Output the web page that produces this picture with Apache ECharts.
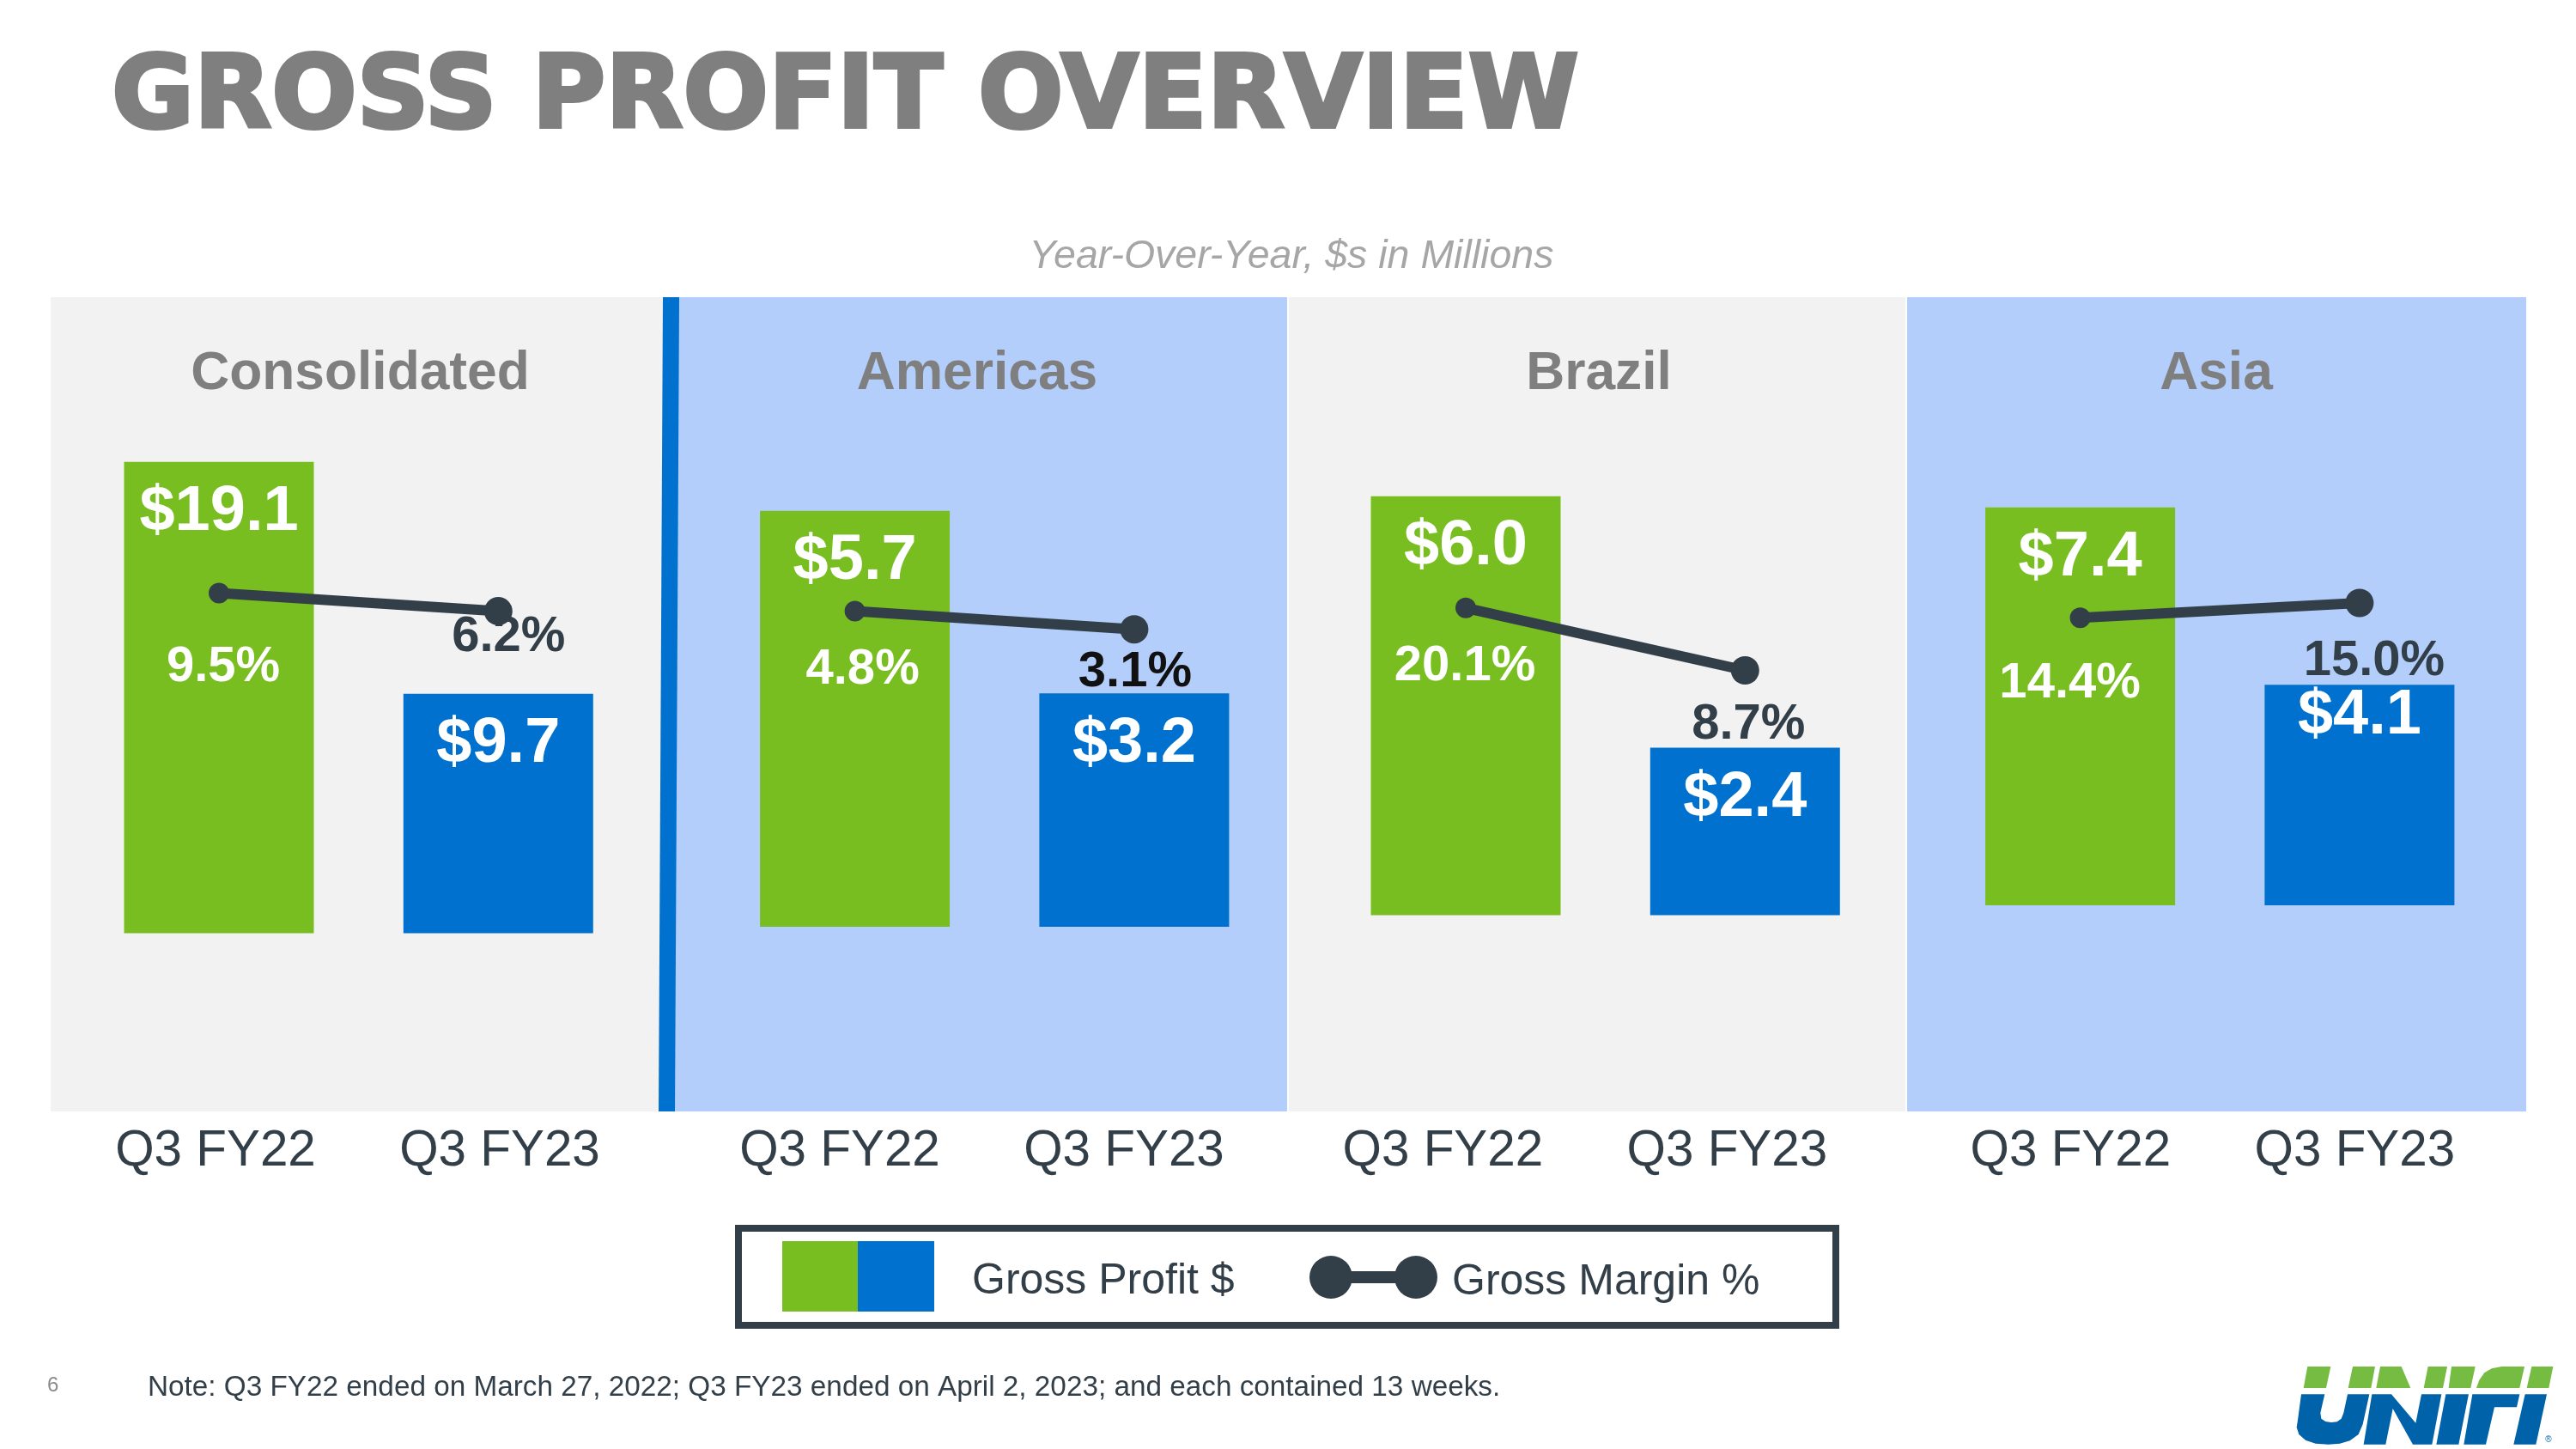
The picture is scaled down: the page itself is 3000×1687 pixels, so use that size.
<!DOCTYPE html>
<html><head><meta charset="utf-8">
<style>html,body{margin:0;padding:0;background:#fff}#c{width:3000px;height:1687px}</style>
<script src="https://cdn.jsdelivr.net/npm/echarts@6/dist/echarts.min.js"></script>
</head><body><div id="c"></div>
<script>
const panelNames = ['Consolidated', 'Americas', 'Brazil', 'Asia'];
const periods = ['Q3 FY22', 'Q3 FY23'];
const profitFY22 = [19.1, 5.7, 6.0, 7.4];
const profitFY23 = [9.7, 3.2, 2.4, 4.1];
const marginFY22 = [9.5, 4.8, 20.1, 14.4];
const marginFY23 = [6.2, 3.1, 8.7, 15.0];

const GREEN = '#78BE20', BLUE = '#0071CE', DARK = '#333F48', GRAY = '#7F7F7F';
const FONT = '"Liberation Sans", Arial, sans-serif';

// layout per panel (pixels / axis ranges chosen so each panel sits as in the slide)
const barCentre0 = [255, 995.6, 1707, 2422.6];
const barStep = 325.3, barW = 221;
const baselines = [1086.6, 1079, 1065.5, 1054];
const plotTop = 346;
const profitMax = [25.77, 8.63, 8.85, 11.31];
const marginRange = [[-52.77, 63.68], [-24.83, 34.28], [-35.99, 76.83], [2.78, 27.36]];
const labelCentre0 = [251, 978, 1680.4, 2411.4];
const labelStep = 331;
const titleCentres = [419.5, 1138, 1862, 2581];
const barLabelGap = [[28, 28], [28, 28], [28, 28], [28, 5]];
const marginLabelOffset = [[[5, 86], [12, 30]], [[9, 68], [1, 50]], [[-1, 68], [4, 64]], [[-12, 77], [17, 68]]];
const marginLabelColor = [['#fff', DARK], ['#fff', '#111'], ['#fff', DARK], ['#fff', DARK]];

const grid = [], xAxis = [], yAxis = [], series = [], title = [];
panelNames.forEach((name, i) => {
  grid.push({ left: barCentre0[i] - barStep / 2, width: barStep * 2, top: plotTop, height: baselines[i] - plotTop });
  xAxis.push({ type: 'category', gridIndex: i, data: periods, show: false });
  yAxis.push({ type: 'value', gridIndex: i, min: 0, max: profitMax[i], show: false });
  yAxis.push({ type: 'value', gridIndex: i, min: marginRange[i][0], max: marginRange[i][1], show: false });
  series.push({
    name: 'Gross Profit $', type: 'bar', xAxisIndex: i, yAxisIndex: i * 2, barWidth: barW, z: 2,
    data: [profitFY22[i], profitFY23[i]].map((v, k) => ({
      value: v,
      itemStyle: { color: k ? BLUE : GREEN },
      label: { distance: barLabelGap[i][k] }
    })),
    label: { show: true, position: 'insideTop', color: '#fff', fontFamily: FONT, fontWeight: 'bold', fontSize: 74,
      lineHeight: 62, formatter: p => '$' + p.value.toFixed(1) }
  });
  series.push({
    name: 'Gross Margin %', type: 'line', xAxisIndex: i, yAxisIndex: i * 2 + 1, z: 3,
    lineStyle: { color: DARK, width: 12 }, itemStyle: { color: DARK }, symbol: 'circle', showSymbol: true,
    data: [marginFY22[i], marginFY23[i]].map((v, k) => ({
      value: v, symbolSize: k ? 33 : 24,
      label: { offset: marginLabelOffset[i][k], color: marginLabelColor[i][k] }
    })),
    label: { show: true, position: 'inside', fontFamily: FONT, fontWeight: 'bold', fontSize: 58,
      formatter: p => p.value.toFixed(1) + '%' }
  });
  title.push({ text: name, left: titleCentres[i], textAlign: 'center', top: 405, padding: 0,
    textStyle: { color: GRAY, fontFamily: FONT, fontWeight: 'bold', fontSize: 62.3 } });
});
// period labels (their spacing differs slightly from the bars)
panelNames.forEach((name, i) => {
  const g = grid.length;
  grid.push({ left: labelCentre0[i] - labelStep / 2, width: labelStep * 2, top: 1293, height: 1 });
  xAxis.push({ type: 'category', gridIndex: g, data: periods,
    axisLine: { show: false }, axisTick: { show: false },
    axisLabel: { color: DARK, fontFamily: FONT, fontSize: 58.4, margin: 18, interval: 0 } });
  yAxis.push({ type: 'value', gridIndex: g, show: false });
});

title.unshift(
  { text: 'GROSS PROFIT OVERVIEW', left: 130, top: 59, padding: 0,
    textStyle: { color: GRAY, fontFamily: '"DejaVu Sans"', fontWeight: 'bold', fontSize: 117, textBorderColor: GRAY, textBorderWidth: 4 } },
  { text: 'Year-Over-Year, $s in Millions', left: 1504, textAlign: 'center', top: 276, padding: 0,
    textStyle: { color: '#A6A6A6', fontFamily: FONT, fontStyle: 'italic', fontWeight: 'normal', fontSize: 46.5 } },
  { text: '6', left: 55, top: 1601, padding: 0, textStyle: { color: '#8C8C8C', fontFamily: FONT, fontWeight: 'normal', fontSize: 24 } },
  { text: 'Note: Q3 FY22 ended on March 27, 2022; Q3 FY23 ended on April 2, 2023; and each contained 13 weeks.',
    left: 172, top: 1599, padding: 0, textStyle: { color: DARK, fontFamily: FONT, fontWeight: 'normal', fontSize: 33.3 } }
);

const rect = (x, y, w, h, fill) => ({ type: 'rect', z: -10, shape: { x, y, width: w, height: h }, style: { fill } });
const poly = (points, fill) => ({ type: 'polygon', shape: { points }, style: { fill } });
const LG = '#76BC43', LB = '#0063A9';
const graphic = [
  rect(59, 346, 716, 948, '#F2F2F2'),
  rect(785, 346, 714, 948, '#B3CEFB'),
  rect(1501, 346, 718, 948, '#F2F2F2'),
  rect(2221, 346, 721, 948, '#B3CEFB'),
  { type: 'polygon', z: -9, shape: { points: [[772, 346], [791, 346], [786, 1294], [767, 1294]] }, style: { fill: BLUE } },
  { type: 'rect', z: -5, shape: { x: 860, y: 1430, width: 1278, height: 113 }, style: { fill: '#fff', stroke: DARK, lineWidth: 8 } },
  { type: 'group', x: 2600, y: 1560, scaleX: 1 / 3, scaleY: 1 / 3, children: [
    poly([[262, 93], [343, 93], [327, 168], [248, 168]], LG),
    poly([[420, 93], [498, 93], [484, 168], [404, 168]], LG),
    poly([[516, 93], [590, 93], [622, 168], [502, 168]], LG),
    poly([[683, 93], [750, 93], [735, 168], [668, 168]], LG),
    poly([[765, 93], [848, 93], [832, 168], [755, 168]], LG),
    poly([[852, 168], [862, 140], [880, 115], [905, 100], [940, 93], [1020, 93], [1003, 168]], LG),
    poly([[1045, 93], [1120, 93], [1105, 168], [1028, 168]], LG),
    poly([[240, 190], [322, 190], [307, 255], [310, 275], [325, 285], [345, 288], [365, 286], [380, 275], [388, 255], [402, 190], [478, 190], [455, 295], [440, 330], [410, 352], [375, 362], [335, 365], [290, 362], [255, 350], [232, 330], [224, 305], [228, 280]], LB),
    poly([[487, 190], [555, 190], [640, 290], [660, 190], [730, 190], [697, 365], [630, 365], [560, 240], [535, 365], [458, 365]], LB),
    poly([[745, 190], [825, 190], [790, 365], [712, 365]], LB),
    poly([[838, 190], [1003, 190], [993, 235], [915, 235], [885, 365], [808, 365]], LB),
    poly([[1022, 190], [1098, 190], [1060, 365], [982, 365]], LB),
    { type: 'text', style: { text: '®', x: 1093, y: 335, fill: LB, fontSize: 30, fontFamily: FONT } }
  ] }
];

const legendRich = pad => ({ color: DARK, fontFamily: FONT, fontSize: 50,
  rich: { t: { color: DARK, fontFamily: FONT, fontSize: 50, lineHeight: 56, padding: [12, 0, 0, pad] } } });
const legend = [
  { left: 911, top: 1445, padding: 0, itemWidth: 177, itemHeight: 82, selectedMode: false,
    formatter: '{t|{name}}', textStyle: legendRich(39),
    data: [{ name: 'Gross Profit $', icon: 'rect', itemStyle: { color: { type: 'linear', x: 0, y: 0, x2: 1, y2: 0,
      colorStops: [{ offset: 0, color: GREEN }, { offset: .5, color: GREEN }, { offset: .5, color: BLUE }, { offset: 1, color: BLUE }] } } }] },
  { left: 1525, top: 1456, padding: 0, itemWidth: 149, itemHeight: 50, selectedMode: false,
    formatter: '{t|{name}}', textStyle: legendRich(12),
    data: [{ name: 'Gross Margin %',
      icon: 'path://M0 25A25 25 0 1 1 50 25A25 25 0 1 1 0 25ZM45 18H104V32H45ZM99 25A25 25 0 1 1 149 25A25 25 0 1 1 99 25Z',
      itemStyle: { color: DARK } }] }
];

const chart = echarts.init(document.getElementById('c'), null, { renderer: 'canvas' });
chart.setOption({ animation: false, backgroundColor: '#fff', title, grid, xAxis, yAxis, series, legend, graphic, tooltip: { show: false } });
</script></body></html>
